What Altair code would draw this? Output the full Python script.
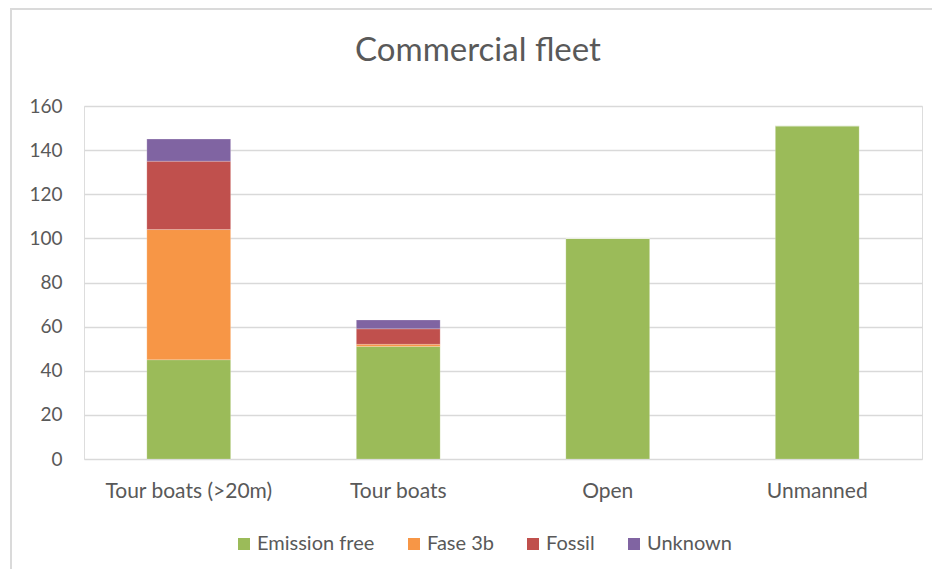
import altair as alt
import pandas as pd

categories = ["Tour boats (>20m)", "Tour boats", "Open", "Unmanned"]
series = ["Emission free", "Fase 3b", "Fossil", "Unknown"]
emission_free = [45, 51, 100, 151]
fase_3b = [59, 1, 0, 0]
fossil = [31, 7, 0, 0]
unknown = [10, 4, 0, 0]
colors = ["#9BBB59", "#F79646", "#C0504D", "#8064A2"]
y_ticks = [0, 20, 40, 60, 80, 100, 120, 140, 160]

rows = []
for si, (name, vals) in enumerate(zip(series, [emission_free, fase_3b, fossil, unknown])):
    for c, v in zip(categories, vals):
        rows.append({"category": c, "series": name, "value": v, "order": si})
df = pd.DataFrame(rows)

FONT = "Lato"
TXT = "#595959"
GRID = "#D9D9D9"

bars = alt.Chart(df).mark_bar(stroke="white", strokeOpacity=0.4, strokeWidth=0.5).encode(
    x=alt.X("category:N", sort=categories,
            scale=alt.Scale(paddingInner=0.6, paddingOuter=0.3),
            axis=alt.Axis(title=None, labelAngle=0, domain=False, ticks=False,
                          labelFontSize=21, labelColor=TXT, labelFont=FONT,
                          labelPadding=21)),
    y=alt.Y("value:Q", stack="zero",
            scale=alt.Scale(domain=[0, 160], nice=False),
            axis=alt.Axis(title=None, values=y_ticks, domain=False, ticks=False,
                          labelFontSize=19, labelColor=TXT, labelFont=FONT,
                          labelPadding=22, gridColor=GRID, gridWidth=1.3)),
    color=alt.Color("series:N", sort=series,
                    scale=alt.Scale(domain=series, range=colors),
                    legend=alt.Legend(title=None, orient="none", direction="horizontal",
                                      legendX=150, legendY=428,
                                      symbolType="square", symbolSize=144,
                                      symbolStrokeWidth=0,
                                      labelFontSize=20, labelColor=TXT, labelFont=FONT,
                                      labelOffset=3, columnPadding=29)),
    order=alt.Order("order:Q"),
)

frame_left = alt.Chart(df).mark_rule(color="#DADADA", strokeWidth=2).encode(
    x=alt.value(-73), y=alt.value(-97), y2=alt.value(480))
frame_top = alt.Chart(df).mark_rule(color="#DADADA", strokeWidth=2).encode(
    x=alt.value(-74), x2=alt.value(860), y=alt.value(-97))

chart = alt.layer(bars, frame_left, frame_top).properties(
    width=838, height=353,
    title=alt.TitleParams("Commercial fleet", font=FONT, fontSize=33, fontWeight="normal",
                          color=TXT, anchor="middle", dx=-25, offset=-86,
                          baseline="alphabetic"),
    autosize=alt.AutoSizeParams(type="none"),
    padding={"left": 76, "top": 98, "right": 10, "bottom": 110},
).configure_view(stroke=None).configure(background="white")

chart.save("out.html", embed_options={"renderer": "svg", "actions": False})
